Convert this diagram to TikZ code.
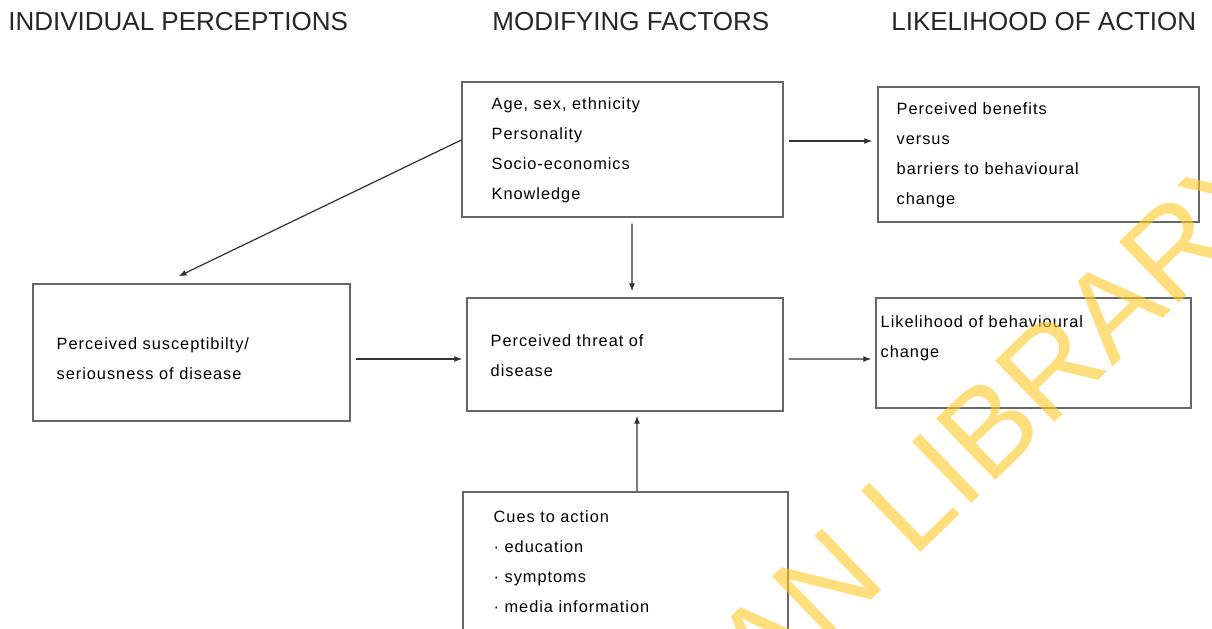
\documentclass[tikz,border=0pt]{standalone}
\usepackage{fontspec}
\setmainfont{Liberation Sans}
\newfontfamily\boxfont[LetterSpace=6]{Liberation Sans}
\usetikzlibrary{arrows.meta}
\definecolor{wmyellow}{RGB}{255,200,40}

\begin{document}
\begin{tikzpicture}[x=0.02cm, y=-0.02cm,
	box/.style={draw=black!60, line width=0.8pt, rectangle, inner sep=0pt},
	txt/.style={anchor=north west, align=left, inner sep=0pt, font=\boxfont\fontsize{9.3pt}{17.07pt}\selectfont},
	head/.style={anchor=base west, inner sep=0pt, font=\fontsize{14.8pt}{18pt}\selectfont, text=black!85},
	flow/.style={draw=black!80, line width=0.7pt, -{Latex[length=1.6mm,width=1.2mm]}},
	wmark/.style={anchor=base west, inner sep=0pt, text=wmyellow, text opacity=0.6, font=\fontsize{70.6pt}{72pt}\selectfont}]
	\useasboundingbox (0,0) rectangle (1212,628);
	\clip (0,0) rectangle (1212,628);
	
	% column titles
	\node[head] (hindiv) at (8,31) {INDIVIDUAL PERCEPTIONS};
	\node[head] (hmodif) at (492,31) {MODIFYING FACTORS};
	\node[head] (hlikely) at (891,31) {LIKELIHOOD OF ACTION};
	
	% boxes
	\node[box, minimum width=6.42cm, minimum height=2.70cm] (demog) at (622.5,149.5) {};
	\node[box, minimum width=6.42cm, minimum height=2.70cm] (benefit) at (1038.5,154.5) {};
	\node[box, minimum width=6.34cm, minimum height=2.74cm] (suscept) at (191.5,352.5) {};
	\node[box, minimum width=6.32cm, minimum height=2.26cm] (threat) at (625,354.5) {};
	\node[box, minimum width=6.30cm, minimum height=2.20cm] (likely) at (1033.5,353) {};
	\node[box, minimum width=6.50cm, minimum height=2.96cm] (cues) at (625.5,566) {};
	
	% texts
	\node[txt] (demogtxt) at ([shift={(30,16)}]demog.north west) {Age, sex, ethnicity\\Personality\\Socio-economics\\Knowledge};
	\node[txt] (benefittxt) at ([shift={(19,16)}]benefit.north west) {Perceived benefits\\versus\\barriers to behavioural\\change};
	\node[txt] (suscepttxt) at ([shift={(24,54)}]suscept.north west) {Perceived susceptibilty/\\seriousness of disease};
	\node[txt] (threattxt) at ([shift={(24,37)}]threat.north west) {Perceived threat of\\disease};
	\node[txt] (likelytxt) at ([shift={(5,18)}]likely.north west) {Likelihood of behavioural\\change};
	\node[txt] (cuestxt) at ([shift={(31,19)}]cues.north west) {Cues to action\\\textperiodcentered\ education\\\textperiodcentered\ symptoms\\\textperiodcentered\ media information};
	
	% arrows
	\draw[flow] ([shift={(0,-9.5)}]demog.west) -- ([shift={(-13,-7)}]suscept.north);
	\draw[flow] ([shift={(9.5,6)}]demog.south) -- ([shift={(7,-6)}]threat.north);
	\draw[flow] ([shift={(5,-8.5)}]demog.east) -- ([shift={(-5,-13.5)}]benefit.west);
	\draw[flow] ([shift={(5,6.5)}]suscept.east) -- ([shift={(-4,4.5)}]threat.west);
	\draw[flow] ([shift={(5,4.5)}]threat.east) -- ([shift={(-4,6)}]likely.west);
	\draw[flow] ([shift={(11.5,0)}]cues.north) -- ([shift={(12,4)}]threat.south);
	
	% watermark
	\node[wmark, rotate=44] (wm) at (765,703) {AN LIBRARY};
\end{tikzpicture}
\end{document}
